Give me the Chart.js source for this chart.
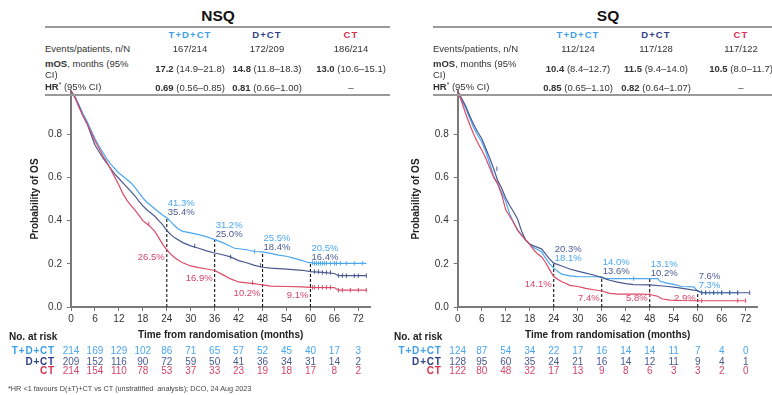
<!DOCTYPE html>
<html><head><meta charset="utf-8">
<script src="https://cdn.jsdelivr.net/npm/chart.js@4"></script>
<style>
body{margin:0;width:772px;height:395px;position:relative;overflow:hidden;background:#fff;font-family:"Liberation Sans",Arial,sans-serif;color:#333}
.c{position:absolute;white-space:nowrap;font-size:9.5px;line-height:11px;z-index:2}
.rule{position:absolute;height:2px;background:#9a9a9a;z-index:2}
.sup{font-size:6.5px;position:relative;top:-3px}
canvas{position:absolute;z-index:1}
</style></head><body>
<canvas id="cl" width="390" height="315" style="left:0;top:80px;width:390px;height:315px"></canvas>
<canvas id="cr" width="382" height="315" style="left:390px;top:80px;width:382px;height:315px"></canvas>
<script>
// ---------- data ----------
const timeTicks = [0,6,12,18,24,30,36,42,48,54,60,66,72];
const yTicks = [0,0.2,0.4,0.6,0.8];
const arms = ['T+D+CT','D+CT','CT'];

const nsqEvents = ['167/214','172/209','186/214'];
const nsqMos = ['17.2','14.8','13.0'];
const nsqMosCI = ['(14.9–21.8)','(11.8–18.3)','(10.6–15.1)'];
const nsqHR = ['0.69','0.81'];
const nsqHRCI = ['(0.56–0.85)','(0.66–1.00)'];

const sqEvents = ['112/124','117/128','117/122'];
const sqMos = ['10.4','11.5','10.5'];
const sqMosCI = ['(8.4–12.7)','(9.4–14.0)','(8.0–11.7)'];
const sqHR = ['0.85','0.82'];
const sqHRCI = ['(0.65–1.10)','(0.64–1.07)'];

const nsqRiskTDCT = [214,169,129,102,86,71,65,57,52,45,40,17,3];
const nsqRiskDCT  = [209,152,116,90,72,59,50,41,36,34,31,14,2];
const nsqRiskCT   = [214,154,110,78,53,37,33,23,19,18,17,8,2];
const sqRiskTDCT  = [124,87,54,34,22,17,16,14,14,11,7,4,0];
const sqRiskDCT   = [128,95,60,35,24,21,16,14,12,11,9,4,1];
const sqRiskCT    = [122,80,48,32,17,13,9,8,6,3,3,2,0];

const landmarkTimes = [24,36,48,60];
const nsqLmTDCT = [41.3,31.2,25.5,20.5];
const nsqLmDCT  = [35.4,25.0,18.4,16.4];
const nsqLmCT   = [26.5,16.9,10.2,9.1];
const sqLmTDCT  = [18.1,14.0,13.1,7.3];
const sqLmDCT   = [20.3,13.6,10.2,7.6];
const sqLmCT    = [14.1,7.4,5.8,2.9];

const nsqTDCT = [[0,1],[1,0.975],[2,0.935],[3,0.895],[4,0.86],[5,0.82],[6,0.78],[7,0.745],[8,0.715],[9,0.685],[10,0.66],[11,0.64],[12,0.62],[13,0.605],[14,0.59],[15,0.575],[16,0.555],[17,0.53],[18,0.505],[19,0.485],[20,0.47],[21,0.455],[22,0.44],[23,0.425],[24,0.413],[25,0.395],[26,0.375],[27,0.36],[28,0.35],[30,0.343],[32,0.335],[34,0.325],[36,0.312],[37,0.305],[38,0.298],[40,0.28],[41,0.272],[44,0.265],[46,0.257],[48,0.255],[50,0.248],[52,0.24],[54,0.235],[56,0.225],[58,0.215],[59.5,0.205],[60,0.205],[61,0.202],[74,0.202]];
const nsqDCT = [[0,1],[1,0.97],[2,0.93],[3,0.885],[4,0.85],[5,0.8],[6,0.75],[7,0.72],[8,0.69],[9,0.665],[10,0.64],[11,0.615],[12,0.595],[13,0.575],[14,0.555],[15,0.535],[16,0.515],[17,0.49],[18,0.468],[19,0.45],[20,0.435],[21,0.42],[22,0.4],[23,0.38],[24,0.354],[25,0.335],[26,0.32],[28,0.298],[30,0.283],[32,0.272],[34,0.26],[36,0.25],[38,0.242],[40,0.232],[42,0.215],[44,0.205],[46,0.193],[48,0.184],[50,0.18],[54,0.175],[58,0.17],[60,0.164],[63,0.16],[66,0.155],[67,0.145],[74,0.145]];
const nsqCT = [[0,1],[1,0.97],[2,0.925],[3,0.885],[4,0.85],[5,0.81],[6,0.77],[7,0.735],[8,0.7],[9,0.67],[10,0.635],[11,0.6],[12,0.565],[13,0.525],[14,0.495],[15,0.47],[16,0.45],[17,0.425],[18,0.4],[19,0.385],[20,0.37],[21,0.35],[22,0.32],[23,0.29],[24,0.265],[25,0.245],[26,0.228],[27,0.215],[28,0.205],[30,0.19],[32,0.182],[34,0.176],[36,0.169],[38,0.15],[40,0.13],[42,0.116],[44,0.112],[46,0.108],[48,0.102],[50,0.097],[54,0.095],[58,0.093],[60,0.091],[66,0.09],[67,0.078],[74,0.078]];

const sqTDCT = [[0,1],[1,0.96],[2,0.92],[3,0.875],[4,0.83],[5,0.795],[6,0.765],[7,0.72],[8,0.665],[9,0.605],[10,0.57],[11,0.53],[12,0.49],[13,0.43],[14,0.39],[15,0.355],[16,0.335],[17,0.31],[18,0.29],[19,0.275],[20,0.265],[21,0.255],[22,0.225],[23,0.2],[24,0.181],[25,0.165],[26,0.152],[28,0.144],[30,0.141],[36,0.14],[37,0.131],[50,0.131],[50.5,0.12],[52,0.112],[54,0.105],[56,0.095],[59,0.093],[60,0.073],[61,0.066],[70,0.066]];
const sqDCT = [[0,1],[1,0.965],[2,0.93],[3,0.885],[4,0.845],[5,0.81],[6,0.78],[7,0.735],[8,0.69],[9,0.64],[10,0.585],[11,0.55],[12,0.505],[13,0.47],[14,0.44],[15,0.405],[16,0.35],[17,0.31],[18,0.292],[19,0.283],[20,0.276],[21,0.268],[22,0.245],[23,0.222],[24,0.203],[26,0.19],[28,0.176],[30,0.166],[32,0.157],[34,0.148],[36,0.136],[38,0.124],[40,0.115],[42,0.108],[44,0.104],[48,0.102],[52,0.096],[55,0.09],[57,0.084],[59,0.078],[60,0.076],[61,0.066],[73,0.066]];
const sqCT = [[0,1],[1,0.95],[2,0.895],[3,0.845],[4,0.8],[5,0.76],[6,0.727],[7,0.69],[8,0.645],[9,0.6],[10,0.57],[11,0.52],[12,0.45],[13,0.42],[14,0.39],[15,0.355],[16,0.33],[17,0.31],[18,0.29],[19,0.265],[20,0.245],[21,0.232],[22,0.205],[23,0.172],[24,0.141],[25,0.128],[26,0.117],[27,0.11],[28,0.1],[30,0.095],[32,0.086],[34,0.08],[36,0.074],[38,0.063],[40,0.06],[46,0.06],[48,0.058],[50,0.05],[51,0.038],[53,0.032],[56,0.03],[60,0.029],[72,0.029]];

const nsqCensTDCT = [46,60.5,61,61.5,62,62.5,63,63.5,64,65,66,66.5,67.5,69,71,73];
const nsqCensDCT  = [31,40,47.5,61,62,63,64,65,67,68,69,71,72,74];
const nsqCensCT   = [19.5,45.5,60.5,61,62,63,64,65,67,68,70,72,74];
const sqCensTDCT  = [44,61,62,63,64,65,66,68,70];
const sqCensDCT   = [9.8,61,62,64,66,68,70,73];
const sqCensCT    = [48,61,70,72];

// ---------- styles ----------
const headColors  = ['#3c9fec','#2f3f88','#d3304f'];
const curveColors = ['#4aa7f0','#4a5a90','#dc4a66'];
const textColors  = ['#4aa7f0','#4a5a90','#d8456a'];
const FONT = '"Liberation Sans", Arial, sans-serif';

// ---------- tables (HTML) ----------
function cell(x, y, html, align, extra) {
  const d = document.createElement('div');
  d.className = 'c';
  d.innerHTML = html;
  d.style.left = x + 'px'; d.style.top = y + 'px';
  d.style.transform = align === 'left' ? 'translate(0,-50%)' : 'translate(-50%,-50%)';
  if (extra) Object.assign(d.style, extra);
  document.body.appendChild(d);
}
function rule(x1, x2, y) {
  const d = document.createElement('div'); d.className = 'rule';
  d.style.left = x1 + 'px'; d.style.width = (x2 - x1) + 'px'; d.style.top = y + 'px';
  document.body.appendChild(d);
}
function buildTable(L, title, ev, mos, mosCI, hr, hrCI) {
  cell(L.titleX, 16, title, 'center', {fontSize:'15.5px', fontWeight:'bold', color:'#111', lineHeight:'18px'});
  rule(L.x1, L.x2, 26);
  rule(L.x1, L.x2, 93.5);
  arms.forEach((a, i) => cell(L.cols[i], 34, a, 'center', {fontWeight:'bold', color:headColors[i], letterSpacing:'1.1px'}));
  cell(L.x1, 47.7, 'Events/patients, n/N', 'left');
  cell(L.x1, 63.3, '<b>mOS</b>, months (95%', 'left');
  cell(L.x1, 74, 'CI)', 'left');
  cell(L.x1, 87.3, '<b>HR</b><span class="sup">*</span> (95% CI)', 'left');
  ev.forEach((v, i) => cell(L.cols[i], 47.7, v, 'center'));
  mos.forEach((v, i) => cell(L.cols[i], 67.7, '<b>' + v + '</b> ' + mosCI[i], 'center'));
  hr.forEach((v, i) => cell(L.cols[i], 87.3, '<b>' + v + '</b> ' + hrCI[i], 'center'));
  cell(L.cols[2], 87.3, '–', 'center');
}
buildTable({titleX:218, x1:45, x2:390, cols:[190,267,351]}, 'NSQ', nsqEvents, nsqMos, nsqMosCI, nsqHR, nsqHRCI);
buildTable({titleX:608, x1:433, x2:772, cols:[578,656,741]}, 'SQ', sqEvents, sqMos, sqMosCI, sqHR, sqHRCI);
cell(8, 387.5, '*HR &lt;1 favours D(±T)+CT vs CT (unstratified&nbsp; analysis); DCO, 24 Aug 2023', 'left', {fontSize:'7.3px', color:'#444'});

// ---------- charts ----------
function valueAt(series, t) {
  let v = series[0][1];
  for (const [x, y] of series) { if (x <= t) v = y; else break; }
  return v;
}
const overlay = {
  id: 'overlay',
  afterDatasetsDraw(chart, args, o) {
    const c = chart.ctx, xs = chart.scales.x, ys = chart.scales.y;
    c.save();
    c.font = '9.5px ' + FONT; c.textBaseline = 'middle';
    landmarkTimes.forEach((t, i) => {
      const x = xs.getPixelForValue(t);
      const b = o.lm[0][i], n = o.lm[1][i], r = o.lm[2][i];
      const yT = ys.getPixelForValue(Math.max(b, n) / 100);
      const order = b >= n ? [0, 1] : [1, 0];
      c.textAlign = 'left';
      order.forEach((k, j) => { c.fillStyle = textColors[k]; c.fillText(o.lm[k][i].toFixed(1) + '%', x + 1, yT - 14 + j * 9); });
      c.textAlign = 'right'; c.fillStyle = textColors[2];
      c.fillText(r.toFixed(1) + '%', x - 2, Math.min(ys.getPixelForValue(r / 100) + 8, ys.getPixelForValue(0) - 9));
    });
    c.restore();
  },
  afterDraw(chart, args, o) {
    const c = chart.ctx, xs = chart.scales.x;
    c.save(); c.textBaseline = 'middle';
    c.font = 'bold 10px ' + FONT; c.fillStyle = '#222'; c.textAlign = 'left';
    c.fillText('No. at risk', o.riskTitleX, 257.7);
    const rowY = [271, 281.8, 291.5];
    arms.forEach((a, k) => {
      c.font = 'bold 10px ' + FONT; c.fillStyle = headColors[k]; c.textAlign = 'right';
      c.letterSpacing = '0.8px';
      c.fillText(a, o.riskLabelRight, rowY[k]);
      c.letterSpacing = '0px';
      c.font = '10px ' + FONT; c.fillStyle = textColors[k]; c.textAlign = 'center';
      o.risk[k].forEach((v, i) => c.fillText(String(v), xs.getPixelForValue(timeTicks[i]), rowY[k]));
    });
    c.restore();
  }
};

function makeChart(id, curves, cens, lm, risk, L) {
  const datasets = [];
  [2, 1, 0].forEach(k => {
    datasets.push({data: curves[k].map(([x, y]) => ({x, y})), borderColor: curveColors[k], borderWidth: 1.2,
      pointRadius: 0, tension: 0, fill: false});
    datasets.push({data: cens[k].map(t => ({x: t, y: valueAt(curves[k], t)})), showLine: false,
      pointStyle: 'line', rotation: 90, pointRadius: 2.2, borderColor: curveColors[k], borderWidth: 1, pointHoverRadius: 0});
  });
  landmarkTimes.forEach((t, i) => {
    const top = Math.max(lm[0][i], lm[1][i]) / 100;
    datasets.push({data: [{x: t, y: 0}, {x: t, y: top}], borderColor: '#111', borderWidth: 1.1, borderDash: [3, 2], pointRadius: 0});
  });
  new Chart(document.getElementById(id), {
    type: 'line',
    data: {datasets},
    options: {
      responsive: false, animation: false, events: [],
      layout: {padding: {left: 0, top: 10.75, right: L.padRight, bottom: 53}},
      plugins: {legend: {display: false}, tooltip: {enabled: false},
        overlay: {lm, risk, riskTitleX: L.riskTitleX, riskLabelRight: L.riskLabelRight}},
      scales: {
        x: {type: 'linear', min: 0, max: 75,
          afterBuildTicks: s => { s.ticks = timeTicks.map(v => ({value: v})); },
          afterFit: s => { s.height = 35; },
          ticks: {autoSkip: false, maxRotation: 0, padding: 2, color: '#333', font: {size: 10, family: FONT}, callback: v => String(v)},
          grid: {drawOnChartArea: false, drawTicks: true, tickLength: 4, color: '#777', tickWidth: 1},
          border: {display: true, color: '#7a7a7a', width: 2},
          title: {display: true, text: 'Time from randomisation (months)', color: '#222',
            font: {size: 10, weight: 'bold', family: FONT}, padding: {top: 0, bottom: 1}}},
        y: {type: 'linear', min: 0, max: 1,
          afterBuildTicks: s => { s.ticks = yTicks.map(v => ({value: v})); },
          afterFit: s => { s.width = L.yWidth; },
          ticks: {padding: 5, color: '#333', font: {size: 10, family: FONT}, callback: v => v.toFixed(1)},
          grid: {drawOnChartArea: false, drawTicks: true, tickLength: 4, color: '#777', tickWidth: 1},
          border: {display: true, color: '#7a7a7a', width: 2},
          title: {display: true, text: 'Probability of OS', color: '#222',
            font: {size: 10, weight: 'bold', family: FONT}, padding: {top: L.yTitlePad, bottom: 0}}}
      }
    },
    plugins: [overlay]
  });
}
makeChart('cl', [nsqTDCT, nsqDCT, nsqCT], [nsqCensTDCT, nsqCensDCT, nsqCensCT], [nsqLmTDCT, nsqLmDCT, nsqLmCT],
  [nsqRiskTDCT, nsqRiskDCT, nsqRiskCT], {padRight: 19.7, yWidth: 71, yTitlePad: 29, riskTitleX: 9, riskLabelRight: 55});
makeChart('cr', [sqTDCT, sqDCT, sqCT], [sqCensTDCT, sqCensDCT, sqCensCT], [sqLmTDCT, sqLmDCT, sqLmCT],
  [sqRiskTDCT, sqRiskDCT, sqRiskCT], {padRight: 14.3, yWidth: 67.7, yTitlePad: 20.7, riskTitleX: 4, riskLabelRight: 51.7});
</script>
</body></html>
